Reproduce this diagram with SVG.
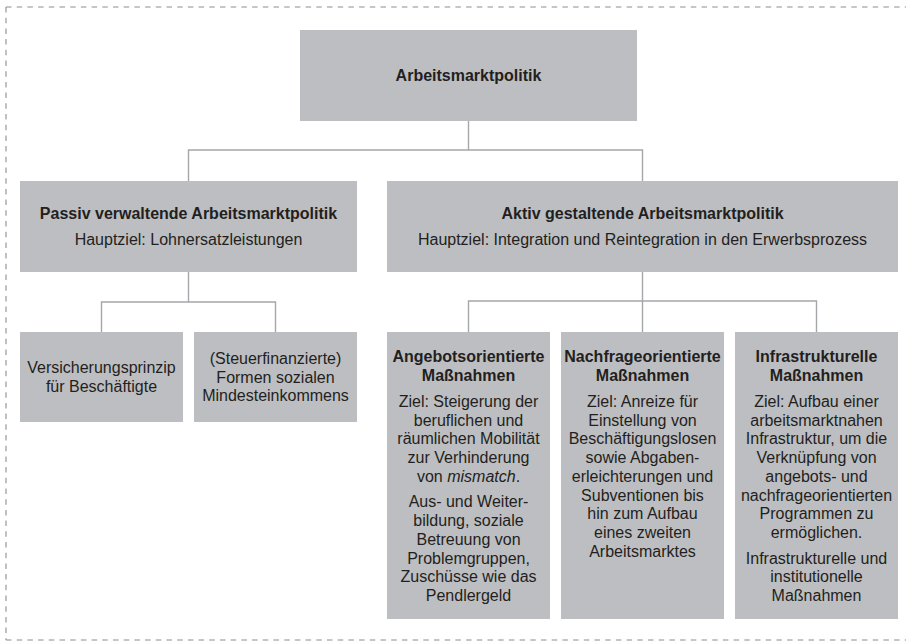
<svg xmlns="http://www.w3.org/2000/svg" width="906" height="641" viewBox="0 0 906 641">
  <style>
    .box { fill: #bdbec1; }
    .t { font-family: "Liberation Sans", Arial, Helvetica, sans-serif; font-size: 16px; fill: #231f20; text-anchor: middle; }
    .b { font-weight: bold; }
    .link { fill: none; stroke: #a6a7aa; stroke-width: 1.4; }
    .frame { fill: none; stroke: #8e8e8e; stroke-width: 1.1; stroke-dasharray: 5.5 5.2; }
  </style>

  <!-- dashed frame (open to the right) -->
  <g id="frame">
    <line class="frame" x1="6" y1="7" x2="906" y2="7"/>
    <line class="frame" x1="6" y1="7" x2="6" y2="640"/>
    <line class="frame" x1="6" y1="640" x2="906" y2="640"/>
  </g>

  <!-- tree connectors -->
  <g id="connectors">
    <path class="link" d="M468.5 121 V150 M188.5 181 V150 H642.5 V181"/>
    <path class="link" d="M188.5 272 V302 M101.5 332 V302 H275.5 V332"/>
    <path class="link" d="M642.5 272 V332 M468.5 332 V301 H816.5 V332"/>
  </g>

  <g id="root">
    <rect class="box" x="300" y="30" width="337" height="91"/>
    <text class="t b" x="468.5" y="81">Arbeitsmarktpolitik</text>
  </g>

  <g id="passiv">
    <rect class="box" x="20" y="181" width="337" height="91"/>
    <text class="t b" x="188.5" y="219">Passiv verwaltende Arbeitsmarktpolitik</text>
    <text class="t" x="188.5" y="244.5">Hauptziel: Lohnersatzleistungen</text>
  </g>

  <g id="aktiv">
    <rect class="box" x="387" y="181" width="511" height="91"/>
    <text class="t b" x="642.5" y="219">Aktiv gestaltende Arbeitsmarktpolitik</text>
    <text class="t" x="642.5" y="244.5">Hauptziel: Integration und Reintegration in den Erwerbsprozess</text>
  </g>

  <g id="versicherung">
    <rect class="box" x="20" y="332" width="163" height="90"/>
    <text class="t" x="101.5" y="373.3">Versicherungsprinzip</text>
    <text class="t" x="101.5" y="392">für Beschäftigte</text>
  </g>

  <g id="mindesteinkommen">
    <rect class="box" x="194" y="332" width="163" height="90"/>
    <text class="t" x="275.5" y="364">(Steuerfinanzierte)</text>
    <text class="t" x="275.5" y="382.7">Formen sozialen</text>
    <text class="t" x="275.5" y="401.4">Mindesteinkommens</text>
  </g>

  <g id="angebot">
    <rect class="box" x="387" y="332" width="163" height="287"/>
    <text class="t b" x="468.5" y="362.3">Angebotsorientierte</text>
    <text class="t b" x="468.5" y="381">Maßnahmen</text>
    <text class="t" x="468.5" y="407">Ziel: Steigerung der</text>
    <text class="t" x="468.5" y="425.7">beruflichen und</text>
    <text class="t" x="468.5" y="444.4">räumlichen Mobilität</text>
    <text class="t" x="468.5" y="463.1">zur Verhinderung</text>
    <text class="t" x="468.5" y="481.8">von <tspan font-style="italic">mismatch</tspan>.</text>
    <text class="t" x="468.5" y="507.4">Aus- und Weiter-</text>
    <text class="t" x="468.5" y="526.1">bildung, soziale</text>
    <text class="t" x="468.5" y="544.8">Betreuung von</text>
    <text class="t" x="468.5" y="563.5">Problemgruppen,</text>
    <text class="t" x="468.5" y="582.2">Zuschüsse wie das</text>
    <text class="t" x="468.5" y="600.9">Pendlergeld</text>
  </g>

  <g id="nachfrage">
    <rect class="box" x="561" y="332" width="163" height="287"/>
    <text class="t b" x="642.5" y="362.3">Nachfrageorientierte</text>
    <text class="t b" x="642.5" y="381">Maßnahmen</text>
    <text class="t" x="642.5" y="407">Ziel: Anreize für</text>
    <text class="t" x="642.5" y="425.7">Einstellung von</text>
    <text class="t" x="642.5" y="444.4">Beschäftigungslosen</text>
    <text class="t" x="642.5" y="463.1">sowie Abgaben-</text>
    <text class="t" x="642.5" y="481.8">erleichterungen und</text>
    <text class="t" x="642.5" y="500.5">Subventionen bis</text>
    <text class="t" x="642.5" y="519.2">hin zum Aufbau</text>
    <text class="t" x="642.5" y="537.9">eines zweiten</text>
    <text class="t" x="642.5" y="556.6">Arbeitsmarktes</text>
  </g>

  <g id="infrastruktur">
    <rect class="box" x="735" y="332" width="163" height="287"/>
    <text class="t b" x="816.5" y="362.3">Infrastrukturelle</text>
    <text class="t b" x="816.5" y="381">Maßnahmen</text>
    <text class="t" x="816.5" y="407">Ziel: Aufbau einer</text>
    <text class="t" x="816.5" y="425.7">arbeitsmarktnahen</text>
    <text class="t" x="816.5" y="444.4">Infrastruktur, um die</text>
    <text class="t" x="816.5" y="463.1">Verknüpfung von</text>
    <text class="t" x="816.5" y="481.8">angebots- und</text>
    <text class="t" x="816.5" y="500.5">nachfrageorientierten</text>
    <text class="t" x="816.5" y="519.2">Programmen zu</text>
    <text class="t" x="816.5" y="537.9">ermöglichen.</text>
    <text class="t" x="816.5" y="563.5">Infrastrukturelle und</text>
    <text class="t" x="816.5" y="582.2">institutionelle</text>
    <text class="t" x="816.5" y="600.9">Maßnahmen</text>
  </g>
</svg>
